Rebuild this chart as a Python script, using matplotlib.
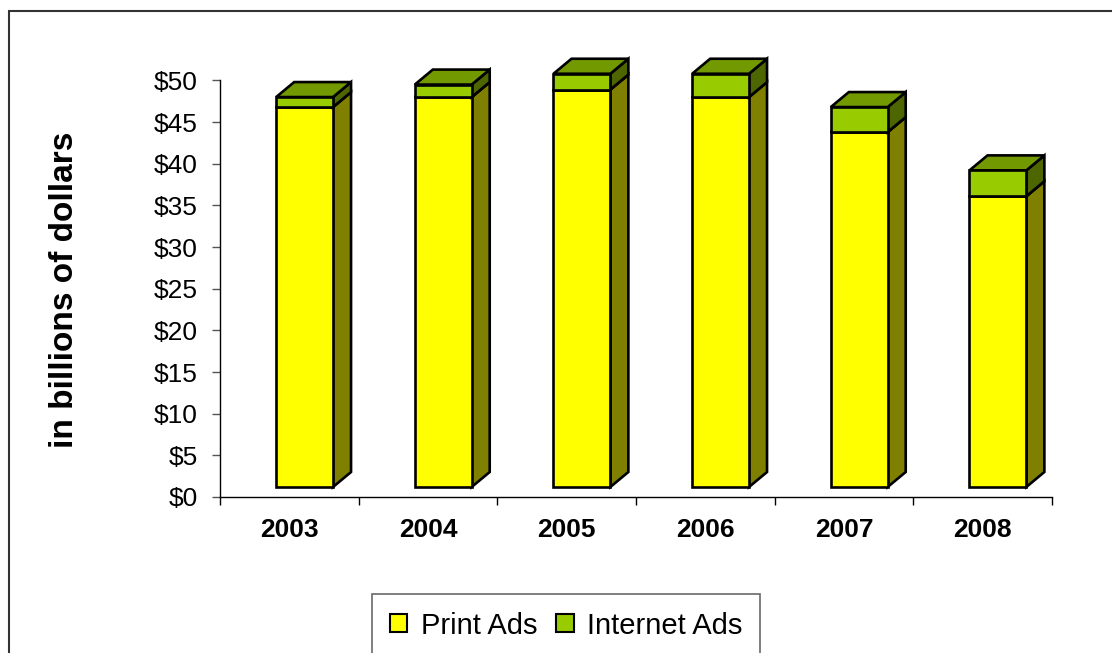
import matplotlib
matplotlib.use("Agg")
import matplotlib.pyplot as plt
from matplotlib.patches import Polygon, Rectangle, Patch
import numpy as np

plt.rcParams['font.family'] = ['Liberation Sans', 'DejaVu Sans']

years = ['2003', '2004', '2005', '2006', '2007', '2008']
print_ads = [45.6, 46.8, 47.7, 46.8, 42.6, 34.9]
internet_ads = [1.2, 1.5, 1.9, 2.8, 3.0, 3.1]

# 3d look: front face offset and depth (data units)
x_off = 0.11
bar_w = 0.41
base = 1.2
dx = 0.13
dy = 1.8

fig = plt.figure(figsize=(11.12, 6.53), dpi=100)
ax = fig.add_axes([220 / 1112, 1 - 497 / 653, 832 / 1112, 416.6 / 653])
ax.set_xlim(-0.5, 5.5)
ax.set_ylim(0, 50)

def draw_segment(x, y0, y1, front, side, top, z):
    xl = x + x_off - bar_w / 2
    xr = x + x_off + bar_w / 2
    kw = dict(edgecolor='black', linewidth=1.9, clip_on=False, joinstyle='miter')
    ax.add_patch(Polygon([(xr, y0), (xr + dx, y0 + dy), (xr + dx, y1 + dy), (xr, y1)],
                         facecolor=side, zorder=z, **kw))
    ax.add_patch(Polygon([(xl, y1), (xl + dx, y1 + dy), (xr + dx, y1 + dy), (xr, y1)],
                         facecolor=top, zorder=z, **kw))
    ax.add_patch(Rectangle((xl, y0), bar_w, y1 - y0, facecolor=front, zorder=z + 0.5, **kw))

for i in range(len(years)):
    p = print_ads[i]
    n = internet_ads[i]
    draw_segment(i, base, base + p, '#FFFF00', '#808000', '#B3B300', 3)
    draw_segment(i, base + p, base + p + n, '#99CC00', '#4D6600', '#739900', 4)

ax.spines['top'].set_visible(False)
ax.spines['right'].set_visible(False)
for s in ['left', 'bottom']:
    ax.spines[s].set_linewidth(1.0)
    ax.spines[s].set_color('black')

ax.set_yticks(np.arange(0, 51, 5))
ax.set_yticklabels(['$%d' % v for v in range(0, 51, 5)], fontsize=19)
ax.tick_params(axis='y', direction='out', length=6, width=1.0, color='#555555', pad=10)

ax.set_xticks(np.arange(-0.5, 6, 1))
ax.set_xticklabels([])
ax.set_xticks(np.arange(len(years)), minor=True)
ax.set_xticklabels(years, minor=True, fontsize=19, fontweight='bold')
ax.tick_params(axis='x', which='major', direction='out', length=6, width=1.0, color='black')
ax.tick_params(axis='x', which='minor', length=0, pad=15)

fig.text(65 / 1112, 1 - 290 / 653, 'in billions of dollars', rotation=90,
         ha='center', va='center', fontsize=24, fontweight='bold')

handles = [Patch(facecolor='#FFFF00', edgecolor='black', linewidth=1.5),
           Patch(facecolor='#99CC00', edgecolor='black', linewidth=1.5)]
leg = fig.legend(handles, ['Print Ads', 'Internet Ads'], loc='upper center',
                 bbox_to_anchor=(566 / 1112, 1 - 594 / 653), ncol=2, fontsize=21,
                 frameon=True, fancybox=False, handlelength=0.6, handleheight=0.6,
                 handletextpad=0.45, columnspacing=0.65, borderpad=0.6, borderaxespad=0)
leg.get_frame().set_edgecolor('#444444')
leg.get_frame().set_linewidth(1.2)

fig.patches.append(Rectangle((9 / 1112, -0.1), 1.2, 1 - 11 / 653 + 0.1, transform=fig.transFigure,
                             fill=False, edgecolor='#333333', linewidth=1.5, figure=fig))

fig.savefig('out.png', dpi=100)
